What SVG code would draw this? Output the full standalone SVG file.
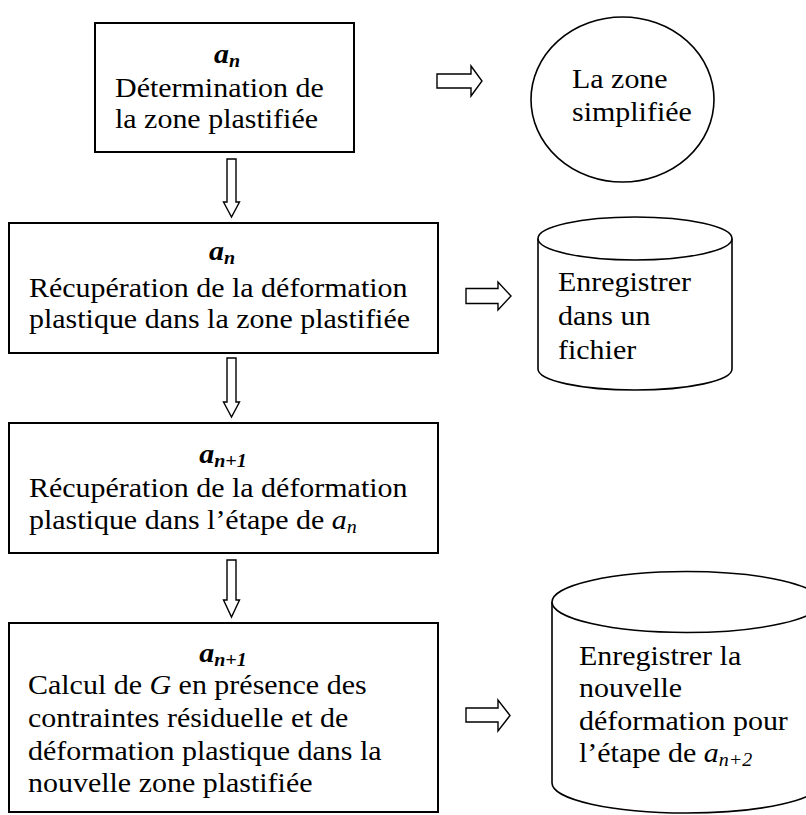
<svg xmlns="http://www.w3.org/2000/svg" width="806" height="815" viewBox="0 0 806 815">
<style>
  .box { fill: #fff; stroke: #000; stroke-width: 2; }
  .shape { fill: #fff; stroke: #000; stroke-width: 1.6; }
  .arrow { fill: #fff; stroke: #000; stroke-width: 1.4; stroke-linejoin: miter; }
  text { font-family: "Liberation Serif", "Times New Roman", serif; font-size: 27px; fill: #000; }
  .bi { font-weight: bold; font-style: italic; }
  .it { font-style: italic; }
  .mid { text-anchor: middle; }
</style>
<rect width="806" height="815" fill="#fff"/>
<g id="connectors">
  <polygon class="arrow" points="227,159 236,159 236,202 239.5,202 231.5,217 223.5,202 227,202"/>
  <polygon class="arrow" points="227,358 236,358 236,402 239.5,402 231.5,417 223.5,402 227,402"/>
  <polygon class="arrow" points="227,560 236,560 236,600 239.5,600 231.5,617 223.5,600 227,600"/>
  <polygon class="arrow" points="437,74 471,74 471,66 482,81 471,96 471,88 437,88"/>
  <polygon class="arrow" points="466,288.5 498,288.5 498,282 511,296 498,310 498,303.5 466,303.5"/>
  <polygon class="arrow" points="466,708 498,708 498,700 510,715.5 498,731 498,722 466,722"/>
</g>
<g id="node-determination">
  <rect class="box" x="95" y="23" width="259" height="129"/>
  <text class="mid" transform="translate(227,63) scale(1.11,1)"><tspan class="bi">a</tspan><tspan class="bi" font-size="18" dy="4">n</tspan></text>
  <text transform="translate(115,97) scale(1.11,1)"><tspan x="0">Détermination de</tspan><tspan x="0" dy="31">la zone plastifiée</tspan></text>
</g>
<g id="node-zone-simplifiee">
  <ellipse class="shape" cx="622.5" cy="99.5" rx="91.5" ry="82.5"/>
  <text transform="translate(572,88) scale(1.11,1)"><tspan x="0">La zone</tspan><tspan x="0" dy="33">simplifiée</tspan></text>
</g>
<g id="node-recuperation-1">
  <rect class="box" x="9" y="223" width="429" height="130"/>
  <text class="mid" transform="translate(222,260) scale(1.11,1)"><tspan class="bi">a</tspan><tspan class="bi" font-size="18" dy="4">n</tspan></text>
  <text transform="translate(29,297) scale(1.11,1)"><tspan x="0">Récupération de la déformation</tspan><tspan x="0" dy="31">plastique dans la zone plastifiée</tspan></text>
</g>
<g id="node-fichier">
  <path class="shape" d="M538,238.5 L538,369 A97,21 0 0,0 732,369 L732,238.5"/>
  <ellipse class="shape" cx="635" cy="238.5" rx="97" ry="21.5"/>
  <text transform="translate(558,291) scale(1.11,1)"><tspan x="0">Enregistrer</tspan><tspan x="0" dy="34">dans un</tspan><tspan x="0" dy="34">fichier</tspan></text>
</g>
<g id="node-recuperation-2">
  <rect class="box" x="9" y="423" width="429" height="130"/>
  <text class="mid" transform="translate(223,463) scale(1.11,1)"><tspan class="bi">a</tspan><tspan class="bi" font-size="18" dy="4">n+1</tspan></text>
  <text transform="translate(29,497) scale(1.11,1)"><tspan x="0">Récupération de la déformation</tspan><tspan x="0" dy="32">plastique dans l’étape de </tspan><tspan class="it">a</tspan><tspan class="it" font-size="18" dy="4">n</tspan></text>
</g>
<g id="node-calcul">
  <rect class="box" x="9" y="623" width="429" height="189"/>
  <text class="mid" transform="translate(223,662) scale(1.11,1)"><tspan class="bi">a</tspan><tspan class="bi" font-size="18" dy="4">n+1</tspan></text>
  <text transform="translate(28,694) scale(1.11,1)"><tspan x="0">Calcul de </tspan><tspan class="it">G</tspan><tspan> en présence des</tspan><tspan x="0" dy="33">contraintes résiduelle et de</tspan><tspan x="0" dy="33">déformation plastique dans la</tspan><tspan x="0" dy="32">nouvelle zone plastifiée</tspan></text>
</g>
<g id="node-nouvelle-deformation">
  <path class="shape" d="M552,602 L552,783 A134.5,30 0 0,0 821,783 L821,602"/>
  <ellipse class="shape" cx="686.5" cy="602" rx="134.5" ry="30.5"/>
  <text transform="translate(579,665) scale(1.11,1)"><tspan x="0">Enregistrer la</tspan><tspan x="0" dy="32">nouvelle</tspan><tspan x="0" dy="33">déformation pour</tspan><tspan x="0" dy="32">l’étape de </tspan><tspan class="it">a</tspan><tspan class="it" font-size="18" dy="4">n+2</tspan></text>
</g>
</svg>
